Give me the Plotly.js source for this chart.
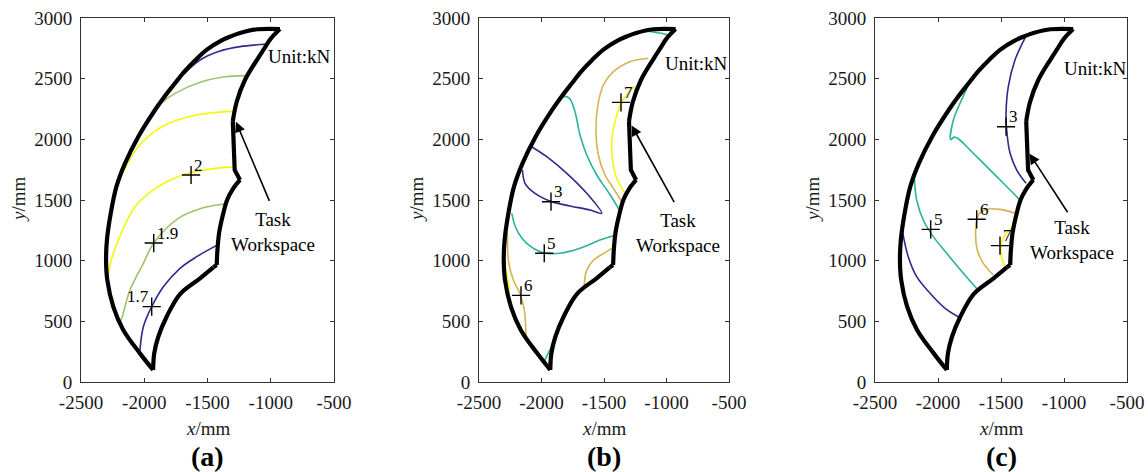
<!DOCTYPE html>
<html>
<head>
<meta charset="utf-8">
<script src="https://cdn.plot.ly/plotly-3.0.1.min.js"></script>
<style>html,body{margin:0;padding:0;background:#fff;}#chart{width:1148px;height:472px;}</style>
</head>
<body>
<div id="chart"></div>
<script>
// ---------- axis ticks ----------
const xTickVals = [-2500, -2000, -1500, -1000, -500];
const xTickText = ['-2500', '-2000', '-1500', '-1000', '-500'];
const yTickVals = [0, 500, 1000, 1500, 2000, 2500, 3000];
const yTickText = ['0', '500', '1000', '1500', '2000', '2500', '3000'];

// ---------- task workspace boundary (shared by all panels), as pieces ----------
const outerX = [-1930, -2034, -2166, -2245, -2292, -2302, -2295, -2265, -2220, -2152, -2047, -1915, -1845, -1757, -1683, -1599, -1505, -1395, -1318, -1243, -1106, -927];
const outerY = [99, 236, 429, 621, 841, 1006, 1170, 1390, 1610, 1802, 2022, 2242, 2345, 2462, 2558, 2650, 2740, 2812, 2848, 2876, 2907, 2909];
const innerUpX = [-927, -1000, -1053, -1100, -1204, -1269, -1300];
const innerUpY = [2909, 2830, 2745, 2670, 2489, 2310, 2150];
const notchX = [-1300, -1296, -1285, -1243];
const notchY = [2150, 1912, 1747, 1665];
const innerLoX = [-1243, -1300, -1345, -1380, -1408, -1422, -1427];
const innerLoY = [1665, 1590, 1500, 1370, 1230, 1080, 964];
const stepX = [-1427, -1454];
const stepY = [964, 945];
const bottomX = [-1454, -1559, -1717, -1823, -1889, -1921, -1930];
const bottomY = [945, 855, 725, 538, 373, 236, 99];

// ---------- panel (a) contour lines ----------
const aBlueUpX = [-1690, -1559, -1401, -1243, -1059, -1030];
const aBlueUpY = [2535, 2654, 2728, 2764, 2783, 2785];
const aGreenUpX = [-1955, -1862, -1757, -1546, -1362, -1200];
const aGreenUpY = [2172, 2300, 2379, 2475, 2516, 2525];
const aYellowUpX = [-2205, -2047, -1862, -1625, -1362, -1292];
const aYellowUpY = [1650, 1939, 2104, 2192, 2228, 2230];
const aYellowLoX = [-2288, -2262, -2205, -2073, -1889, -1652, -1362, -1290];
const aYellowLoY = [860, 1000, 1170, 1445, 1610, 1720, 1769, 1772];
const aGreenLoX = [-2190, -2178, -2113, -2007, -1925, -1731, -1546, -1400, -1340];
const aGreenLoY = [500, 525, 758, 978, 1145, 1349, 1432, 1462, 1468];
const aBlueLoX = [-2035, -2007, -1941, -1849, -1717, -1585, -1420];
const aBlueLoY = [250, 456, 621, 785, 937, 1033, 1130];
const aMarkX = [-1630, -1925, -1941];
const aMarkY = [1706, 1145, 621];
const aMarkText = ['2', '1.9', '1.7'];

// ---------- panel (b) contour lines ----------
const bTealTopX = [-1150, -1060, -975];
const bTealTopY = [2892, 2877, 2860];
const bGoldUpX = [-1146, -1292, -1425, -1505, -1553, -1564, -1545, -1492, -1425, -1358];
const bGoldUpY = [2668, 2640, 2558, 2448, 2256, 2063, 1871, 1706, 1596, 1486];
const bYellowUpX = [-1255, -1358, -1412, -1439, -1430, -1398, -1335];
const bYellowUpY = [2440, 2310, 2145, 1980, 1816, 1679, 1560];
const bTealUpX = [-1850, -1800, -1772, -1732, -1692, -1638, -1558, -1452, -1380];
const bTealUpY = [2340, 2352, 2332, 2228, 2036, 1871, 1706, 1545, 1420];
const bBlueX = [-2079, -1958, -1798, -1638, -1518, -1612, -1772, -1918, -2052, -2132, -2153];
const bBlueY = [1939, 1857, 1720, 1555, 1390, 1418, 1451, 1486, 1555, 1638, 1747];
const bTealMidX = [-2238, -2198, -2118, -1986, -1852, -1692, -1532, -1405];
const bTealMidY = [1390, 1253, 1143, 1066, 1061, 1102, 1170, 1212];
const bGoldLeftX = [-2275, -2273, -2265, -2225, -2172, -2137, -2124];
const bGoldLeftY = [1230, 1209, 1003, 838, 728, 591, 371];
const bYellowLeftX = [-2287, -2272, -2255];
const bYellowLeftY = [930, 850, 760];
const bGoldLoX = [-1660, -1639, -1585, -1505, -1425];
const bGoldLoY = [775, 920, 1003, 1058, 1110];
const bTealBotX = [-1980, -1945, -1905];
const bTealBotY = [165, 240, 316];
const bMarkX = [-1364, -1924, -1978, -2164];
const bMarkY = [2305, 1486, 1061, 714];
const bMarkText = ['7', '3', '5', '6'];

// ---------- panel (c) contour lines ----------
const cBlueUpX = [-1305, -1389, -1442, -1460, -1455, -1428, -1375, -1301];
const cBlueUpY = [2845, 2654, 2434, 2215, 2077, 1885, 1747, 1638];
const cTealUpX = [-1746, -1825, -1878, -1899, -1872, -1839, -1746, -1613, -1481, -1375, -1350];
const cTealUpY = [2475, 2297, 2159, 1998, 2018, 2005, 1912, 1775, 1638, 1527, 1495];
const cTealLoX = [-2188, -2169, -2117, -2037, -1931, -1799, -1688];
const cTealLoY = [1690, 1500, 1335, 1198, 1061, 896, 764];
const cBlueLoX = [-2282, -2236, -2169, -2063, -1944, -1839];
const cBlueLoY = [1240, 1033, 868, 731, 607, 538];
const cGoldX = [-1385, -1508, -1613, -1680, -1701, -1688, -1640, -1561];
const cGoldY = [1390, 1423, 1423, 1376, 1253, 1088, 978, 882];
const cYellowX = [-1412, -1440, -1476, -1502, -1494, -1468];
const cYellowY = [1272, 1245, 1198, 1115, 1020, 945];
const cMarkX = [-1460, -2058, -1693, -1508];
const cMarkY = [2104, 1258, 1341, 1124];
const cMarkText = ['3', '5', '6', '7'];

// ---------- text ----------
const panelLabels = ['(a)', '(b)', '(c)'];
const unitText = 'Unit:kN';
const taskText = 'Task<br>Workspace';
const xTitle = '<i>x</i>/mm';
const yTitle = '<i>y</i>/mm';

// ---------- styles ----------
const NAVY = '#2f2a8a', TEAL = '#2bb39b', GREEN = '#9fc26d', GOLD = '#d8b250', YELLOW = '#f6f60c';
const FONT = 'Liberation Serif';

const axes = [
  {xa: 'x', ya: 'y', dom: [81, 334]},
  {xa: 'x2', ya: 'y2', dom: [479, 729]},
  {xa: 'x3', ya: 'y3', dom: [875, 1127]}
];
const W = 1148, H = 472, TOP = 18, BOT = 382;

function line(xs, ys, color, k, shape) {
  return {x: xs, y: ys, type: 'scatter', mode: 'lines', xaxis: axes[k].xa, yaxis: axes[k].ya,
    line: {color: color, width: 1.6, shape: shape || 'spline', smoothing: 1}, hoverinfo: 'skip', showlegend: false};
}
function boundary(k) {
  const pieces = [[outerX, outerY, 'spline'], [innerUpX, innerUpY, 'spline'], [notchX, notchY, 'linear'],
    [innerLoX, innerLoY, 'spline'], [stepX, stepY, 'linear'], [bottomX, bottomY, 'spline']];
  return pieces.map(p => ({x: p[0], y: p[1], type: 'scatter', mode: 'lines', xaxis: axes[k].xa, yaxis: axes[k].ya,
    line: {color: '#000', width: 4.2, shape: p[2], smoothing: 1}, hoverinfo: 'skip', showlegend: false}));
}
function marks(xs, ys, k) {
  return {x: xs, y: ys, type: 'scatter', mode: 'markers', xaxis: axes[k].xa, yaxis: axes[k].ya,
    marker: {symbol: 'cross-thin', size: 13, line: {color: '#000', width: 1.4}}, hoverinfo: 'skip', showlegend: false};
}

const traces = [].concat(
  [line(aBlueUpX, aBlueUpY, NAVY, 0), line(aGreenUpX, aGreenUpY, GREEN, 0), line(aYellowUpX, aYellowUpY, YELLOW, 0),
   line(aYellowLoX, aYellowLoY, YELLOW, 0), line(aGreenLoX, aGreenLoY, GREEN, 0), line(aBlueLoX, aBlueLoY, NAVY, 0)],
  boundary(0), [marks(aMarkX, aMarkY, 0)],

  [line(bTealTopX, bTealTopY, TEAL, 1), line(bGoldUpX, bGoldUpY, GOLD, 1), line(bYellowUpX, bYellowUpY, YELLOW, 1),
   line(bTealUpX, bTealUpY, TEAL, 1), line(bBlueX, bBlueY, NAVY, 1), line(bTealMidX, bTealMidY, TEAL, 1),
   line(bGoldLeftX, bGoldLeftY, GOLD, 1), line(bYellowLeftX, bYellowLeftY, YELLOW, 1), line(bGoldLoX, bGoldLoY, GOLD, 1),
   line(bTealBotX, bTealBotY, TEAL, 1)],
  boundary(1), [marks(bMarkX, bMarkY, 1)],

  [line(cBlueUpX, cBlueUpY, NAVY, 2), line(cTealUpX, cTealUpY, TEAL, 2), line(cTealLoX, cTealLoY, TEAL, 2),
   line(cBlueLoX, cBlueLoY, NAVY, 2), line(cGoldX, cGoldY, GOLD, 2), line(cYellowX, cYellowY, YELLOW, 2)],
  boundary(2), [marks(cMarkX, cMarkY, 2)]
);

(function () {
  const t = traces.find(tr => tr.x === bBlueX);
  t.line.smoothing = 0.8;
})();

const layout = {
  width: W, height: H, margin: {l: 0, r: 0, t: 0, b: 0},
  paper_bgcolor: '#fff', plot_bgcolor: '#fff',
  font: {family: FONT, color: '#000', size: 19},
  showlegend: false, annotations: []
};

const unitPos = [[-1040, 2680], [-1026, 2623], [-1018, 2582]];
const taskPos = [[-980, 1236], [-905, 1232], [-939, 1170]];
const arrowHead = [[-1275, 2145], [-1279, 2115], [-1274, 1882]];
const arrowTail = [[-1006, 1480], [-932, 1470], [-964, 1387]];
const markSets = [[aMarkX, aMarkY, aMarkText], [bMarkX, bMarkY, bMarkText], [cMarkX, cMarkY, cMarkText]];

axes.forEach((a, k) => {
  const sfx = k === 0 ? '' : String(k + 1);
  const common = {showgrid: false, zeroline: false, showline: true, mirror: 'ticks', ticks: 'inside', ticklen: 4,
    tickwidth: 1, tickcolor: '#333', linecolor: '#333', linewidth: 1, fixedrange: true,
    tickfont: {family: FONT, size: 19, color: '#1a1a1a'}};
  layout['xaxis' + sfx] = Object.assign({}, common, {domain: [a.dom[0] / W, a.dom[1] / W], range: [-2500, -500],
    tickmode: 'array', tickvals: xTickVals, ticktext: xTickText, anchor: a.ya, ticklabelstandoff: 3});
  layout['yaxis' + sfx] = Object.assign({}, common, {domain: [1 - BOT / H, 1 - TOP / H], range: [0, 3000],
    tickmode: 'array', tickvals: yTickVals, ticktext: yTickText, anchor: a.xa, ticklabelstandoff: 4});

  const cx = (a.dom[0] + a.dom[1]) / 2;
  layout.annotations.push({xref: 'paper', yref: 'paper', x: cx / W, y: 1 - 428 / H, text: xTitle, showarrow: false,
    xanchor: 'center', yanchor: 'middle', font: {family: FONT, size: 19, color: '#1a1a1a'}});
  layout.annotations.push({xref: 'paper', yref: 'paper', x: (a.dom[0] - 63) / W, y: 1 - 200 / H, text: yTitle, showarrow: false,
    textangle: -90, xanchor: 'center', yanchor: 'middle', font: {family: FONT, size: 19, color: '#1a1a1a'}});
  layout.annotations.push({xref: 'paper', yref: 'paper', x: cx / W, y: 1 - 456 / H, text: '<b>' + panelLabels[k] + '</b>', showarrow: false,
    xanchor: 'center', yanchor: 'middle', font: {family: FONT, size: 28, color: '#000'}});
  layout.annotations.push({xref: a.xa, yref: a.ya, x: unitPos[k][0], y: unitPos[k][1], text: unitText, showarrow: false,
    xanchor: 'left', yanchor: 'middle', font: {family: FONT, size: 19, color: '#000'}});
  layout.annotations.push({xref: a.xa, yref: a.ya, x: taskPos[k][0], y: taskPos[k][1], text: taskText, showarrow: false,
    xanchor: 'center', yanchor: 'middle', align: 'center', font: {family: FONT, size: 19, color: '#000'}});
  layout.annotations.push({xref: a.xa, yref: a.ya, axref: a.xa, ayref: a.ya, x: arrowHead[k][0], y: arrowHead[k][1],
    ax: arrowTail[k][0], ay: arrowTail[k][1], text: '', showarrow: true, arrowhead: 2, arrowsize: 1.3, arrowwidth: 1.6, arrowcolor: '#000'});
  const ms = markSets[k];
  ms[0].forEach((mx, i) => {
    const txt = ms[2][i];
    const leftSide = txt === '1.7';
    layout.annotations.push({xref: a.xa, yref: a.ya, x: mx, y: ms[1][i], text: txt, showarrow: false,
      xanchor: leftSide ? 'right' : 'left', yanchor: 'middle', xshift: leftSide ? -1 : 1, yshift: 10,
      font: {family: FONT, size: 17, color: '#000'}});
  });
});

Plotly.newPlot('chart', traces, layout, {staticPlot: true, displayModeBar: false});
</script>
</body>
</html>
